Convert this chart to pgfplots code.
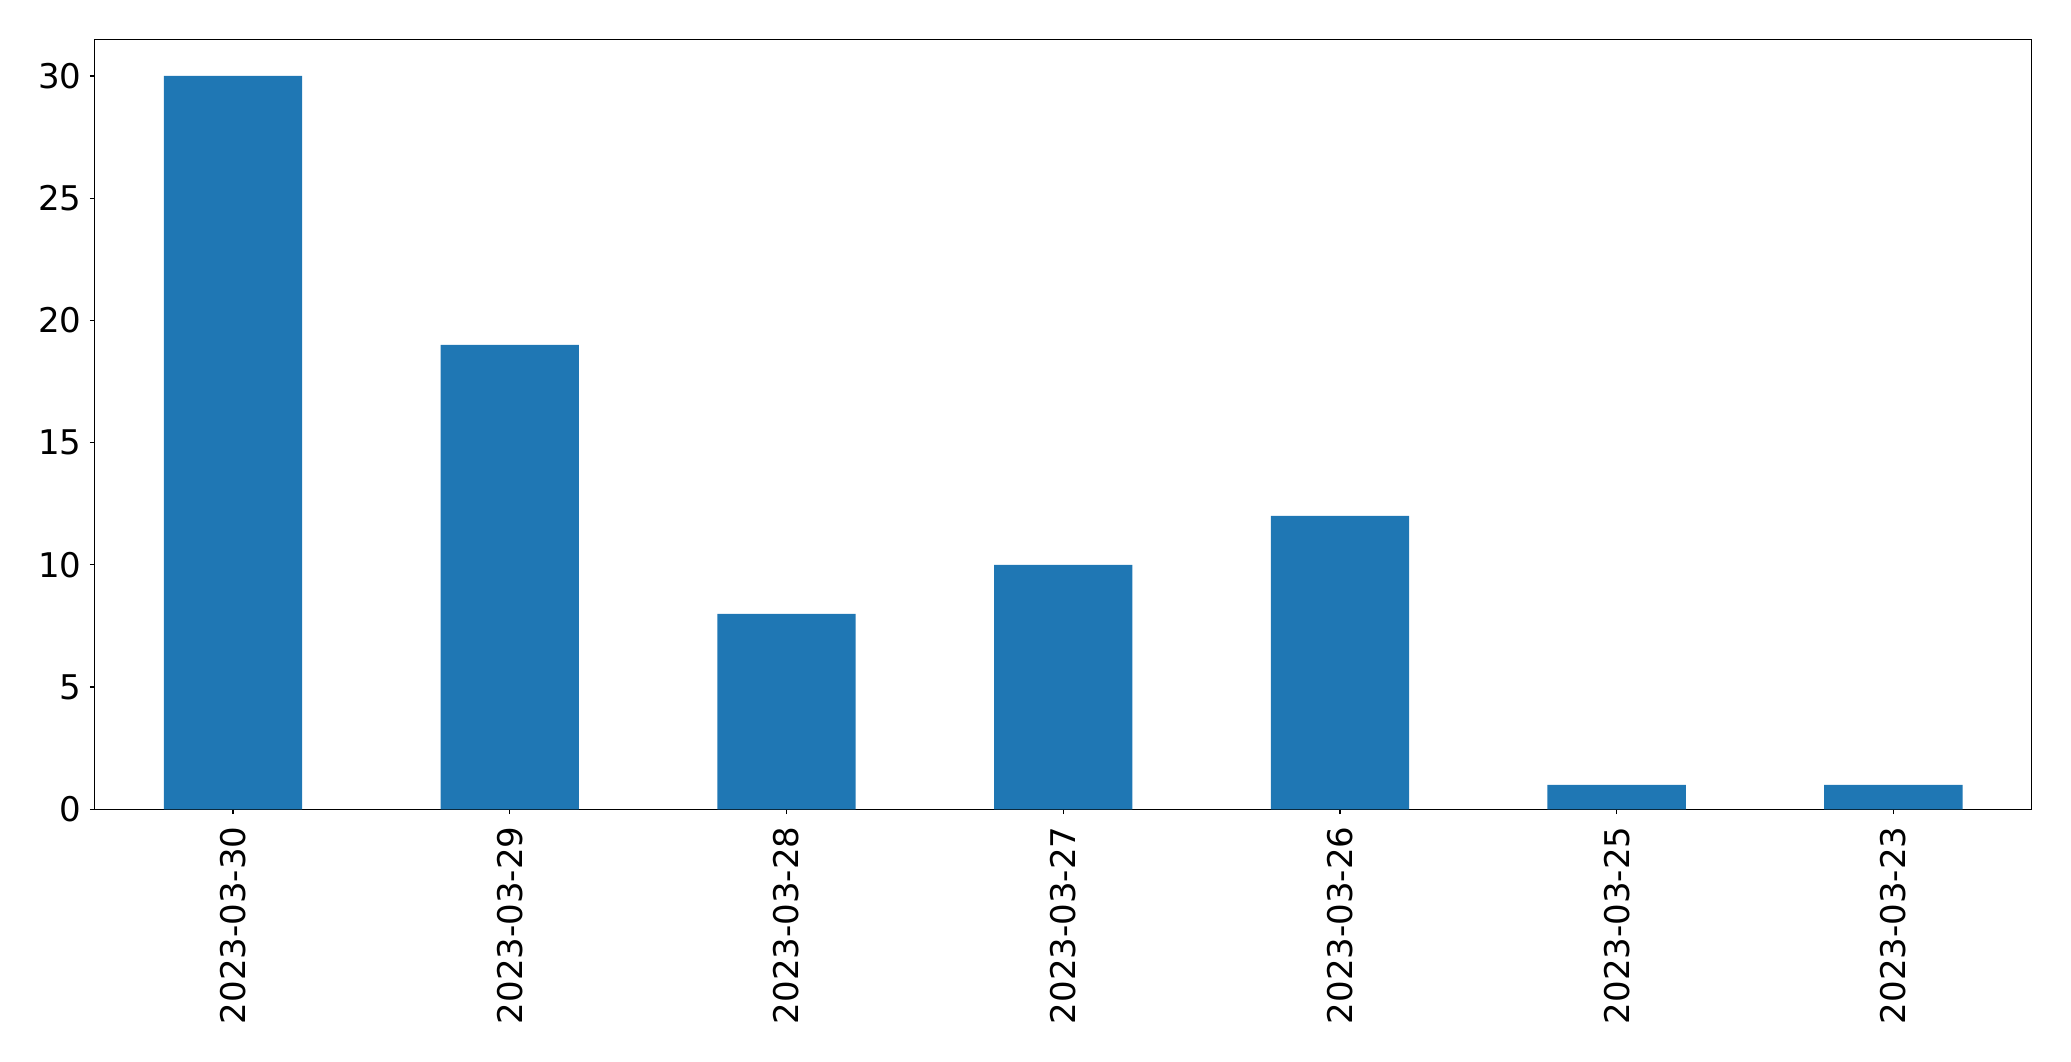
\documentclass[border=0pt]{standalone}
\usepackage{pgfplots}
\pgfplotsset{compat=1.18}
\usepackage{fontspec}
\setmainfont{DejaVu Sans}
\definecolor{mplblue}{HTML}{1F77B4}
\begin{document}
\begin{tikzpicture}
\begin{axis}[
  scale only axis,
  width=968.5pt, height=385pt,
  xmin=-0.5, xmax=6.5, ymin=0, ymax=31.5,
  xtick={0,1,2,3,4,5,6},
  xticklabels={2023-03-30,2023-03-29,2023-03-28,2023-03-27,2023-03-26,2023-03-25,2023-03-23},
  ytick={0,5,10,15,20,25,30},
  tick align=outside,
  tick pos=left,
  major tick length=2.4pt,
  axis line style={black, line width=0.6pt},
  every tick/.style={black, line width=0.6pt},
  /pgf/number format/assume math mode=true,
  tick label style={font=\fontsize{17}{20}\selectfont},
  xticklabel style={rotate=90, anchor=east, inner sep=0pt, xshift=-6pt},
  yticklabel style={inner sep=0pt, xshift=-4pt},
]
\addplot[ybar, bar width=0.5, fill=mplblue, draw=none] coordinates {
  (0,30) (1,19) (2,8) (3,10) (4,12) (5,1) (6,1)
};
\end{axis}
\useasboundingbox ([shift={(-47.35pt,-125.85pt)}]current axis.south west) rectangle ([shift={(19.65pt,19.65pt)}]current axis.north east);
\end{tikzpicture}
\end{document}
